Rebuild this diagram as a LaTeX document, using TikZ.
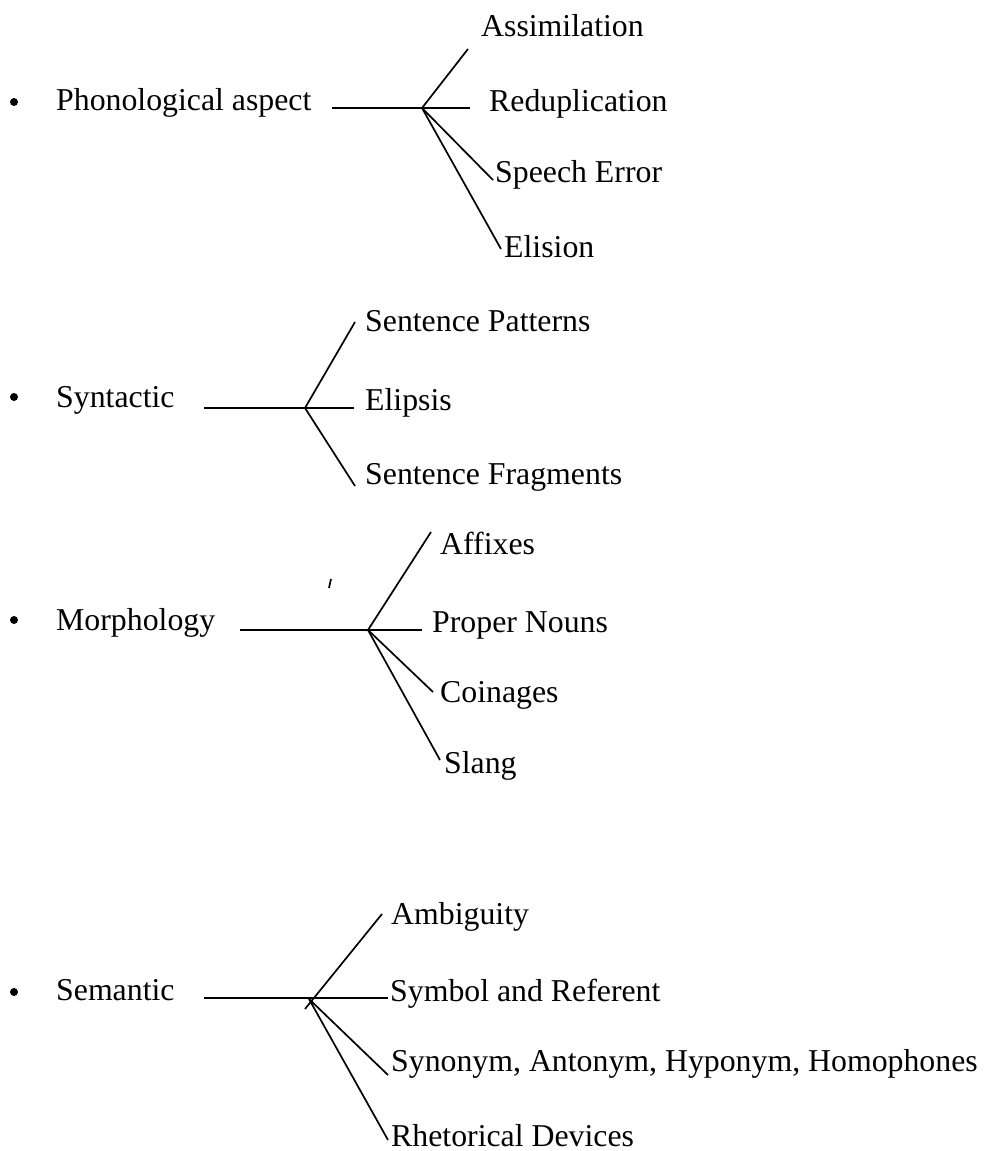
\documentclass[tikz,border=0pt]{standalone}
\usepackage{fontspec}
\setmainfont{Liberation Serif}
\begin{document}
\begin{tikzpicture}[x=1pt,y=-1pt,
  lbl/.style={anchor=base west, inner sep=0pt, font=\fontsize{31.8}{38}\selectfont},
  conn/.style={line width=1.7pt, line cap=butt},
  hconn/.style={line width=2pt, line cap=butt},
  bul/.style={fill=black, draw=none}]
\useasboundingbox (0,0) rectangle (984,1151);
% ---------- Group 1 ----------
\fill[bul] (14,102) circle (4);
\node[lbl] (h1) at (56,110) {Phonological aspect};
\coordinate (s1) at (332,108);
\coordinate (j1) at (422,108);
\coordinate (e1) at (470,108);
\coordinate (a1) at (468,49);
\coordinate (c1) at (493,180);
\coordinate (d1) at (501,249);
\node[lbl] (t11) at (481,36) {Assimilation};
\node[lbl] (t12) at (489,111) {Reduplication};
\node[lbl] (t13) at (495,182) {Speech Error};
\node[lbl] (t14) at (504,257) {Elision};
\draw[hconn] (s1) -- (e1);
\draw[conn] (j1) -- (a1);
\draw[conn] (j1) -- (c1);
\draw[conn] (j1) -- (d1);
% ---------- Group 2 ----------
\fill[bul] (14,397) circle (4);
\node[lbl] (h2) at (56,407) {Syntactic};
\coordinate (s2) at (204,408);
\coordinate (j2) at (305,408);
\coordinate (e2) at (354,408);
\coordinate (a2) at (355,322);
\coordinate (c2) at (355,486);
\node[lbl] (t21) at (365,331) {Sentence Patterns};
\node[lbl] (t22) at (365,410) {Elipsis};
\node[lbl] (t23) at (365,484) {Sentence Fragments};
\draw[hconn] (s2) -- (e2);
\draw[conn] (j2) -- (a2);
\draw[conn] (j2) -- (c2);
% ---------- Group 3 ----------
\fill[bul] (14,620) circle (4);
\node[lbl] (h3) at (56,630) {Morphology};
\coordinate (s3) at (240,630);
\coordinate (j3) at (368,630);
\coordinate (e3) at (422,630);
\coordinate (a3) at (431,532);
\coordinate (c3) at (433,692);
\coordinate (d3) at (440,760);
\coordinate (k1) at (331,579);
\coordinate (k2) at (329,588);
\node[lbl] (t31) at (440,554) {Affixes};
\node[lbl] (t32) at (432,632) {Proper Nouns};
\node[lbl] (t33) at (440,702) {Coinages};
\node[lbl] (t34) at (444,773) {Slang};
\draw[hconn] (s3) -- (e3);
\draw[conn] (j3) -- (a3);
\draw[conn] (j3) -- (c3);
\draw[conn] (j3) -- (d3);
\draw[conn] (k1) -- (k2);
% ---------- Group 4 ----------
\fill[bul] (14,992) circle (4);
\node[lbl] (h4) at (56,1000) {Semantic};
\coordinate (s4) at (204,998);
\coordinate (j4) at (309,999);
\coordinate (e4) at (388,998);
\coordinate (x4) at (305,1009);
\coordinate (a4) at (382,914);
\coordinate (c4) at (388,1075);
\coordinate (d4) at (388,1140);
\node[lbl] (t41) at (391,924) {Ambiguity};
\node[lbl] (t42) at (390,1001) {Symbol and Referent};
\node[lbl] (t43) at (391,1071) {Synonym, Antonym, Hyponym, Homophones};
\node[lbl] (t44) at (391,1146) {Rhetorical Devices};
\draw[hconn] (s4) -- (e4);
\draw[conn] (x4) -- (a4);
\draw[conn] (j4) -- (c4);
\draw[conn] (j4) -- (d4);
\end{tikzpicture}
\end{document}
